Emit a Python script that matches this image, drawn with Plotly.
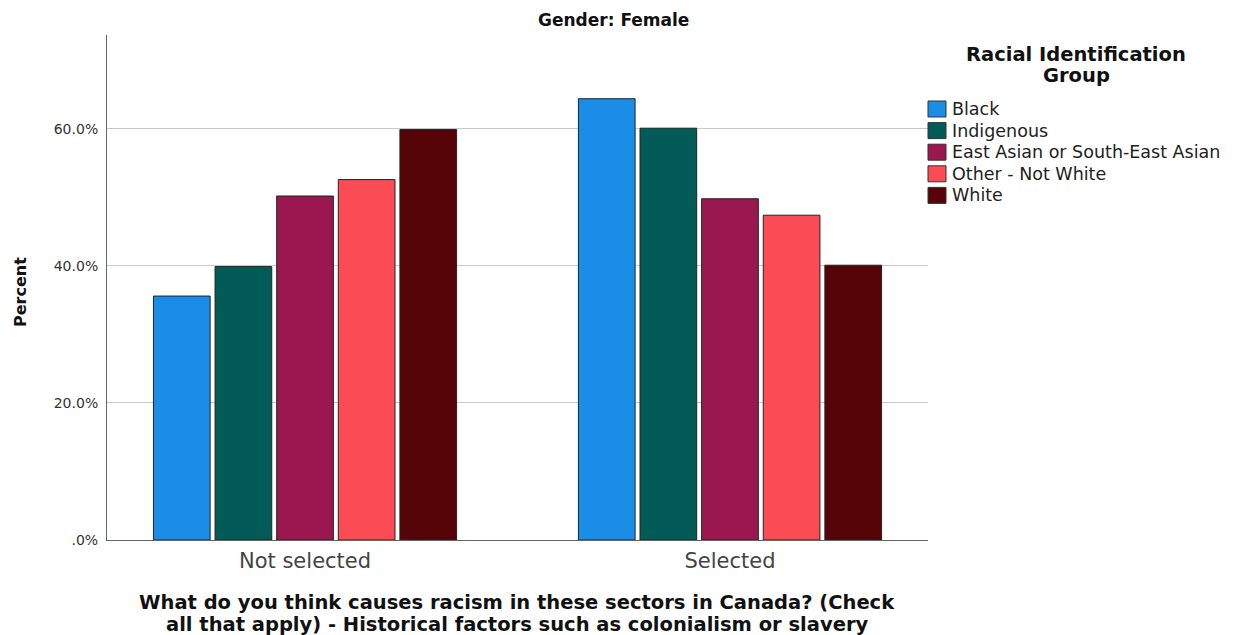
import plotly.graph_objects as go

categories = ["Not selected", "Selected"]
groups = ["Black", "Indigenous", "East Asian or South-East Asian", "Other - Not White", "White"]
colors = ["#1a8ee6", "#035b58", "#9b1750", "#fb4c56", "#560407"]
values = {
    "Black": [35.6, 64.4],
    "Indigenous": [39.9, 60.1],
    "East Asian or South-East Asian": [50.2, 49.8],
    "Other - Not White": [52.6, 47.4],
    "White": [59.9, 40.1],
}
y_ticks = [0, 20, 40, 60]
y_ticklabels = [".0%", "20.0%", "40.0%", "60.0%"]
title_text = "Gender: Female"
x_title_lines = ["What do you think causes racism in these sectors in Canada? (Check",
                 "all that apply) - Historical factors such as colonialism or slavery"]
legend_title_lines = ["Racial Identification", "Group"]
y_title = "Percent"

FONT = "DejaVu Sans, Arial, sans-serif"
OFF = 8  # page body margin
W, H = 1233 - OFF, 635 - OFF
# plot area in window pixels
X0, X1, Y0, Y1 = 107, 928, 35, 540
L, R, T, B = X0 - OFF, 1233 - X1, Y0 - OFF, 635 - Y1
PW, PH = X1 - X0, Y1 - Y0


def px(xp):
    return (xp - X0) / PW


def py(yp):
    return (Y1 - yp) / PH


fig = go.Figure()
for g, c in zip(groups, colors):
    fig.add_trace(go.Bar(
        x=categories, y=values[g], name=g,
        marker=dict(color=c, line=dict(color="#222222", width=1)),
    ))

annotations = [
    dict(text="<b>%s</b>" % title_text, xref="paper", yref="paper", x=px(613), y=py(20),
         xanchor="center", yanchor="middle", showarrow=False,
         font=dict(size=17, color="#111111", family=FONT)),
    dict(text="<b>%s</b>" % y_title, xref="paper", yref="paper", x=px(20), y=py(292),
         xanchor="center", yanchor="middle", showarrow=False, textangle=-90,
         font=dict(size=16, color="#111111", family=FONT)),
]
for i, line in enumerate(x_title_lines):
    annotations.append(dict(text="<b>%s</b>" % line, xref="paper", yref="paper",
                            x=px(517), y=py(602 + 22 * i), xanchor="center", yanchor="middle",
                            showarrow=False, font=dict(size=19.5, color="#111111", family=FONT)))
for i, line in enumerate(legend_title_lines):
    annotations.append(dict(text="<b>%s</b>" % line, xref="paper", yref="paper",
                            x=px(1076), y=py(54 + 22 * i), xanchor="center", yanchor="middle",
                            showarrow=False, font=dict(size=19.5, color="#111111", family=FONT)))

shapes = []
for i, (g, c) in enumerate(zip(groups, colors)):
    yc = 109 + 21.6 * i
    shapes.append(dict(type="rect", xref="paper", yref="paper",
                       x0=px(928), x1=px(946), y0=py(yc - 8), y1=py(yc + 8),
                       fillcolor=c, line=dict(color="#333333", width=1)))
    annotations.append(dict(text=g, xref="paper", yref="paper", x=px(950), y=py(yc),
                            xanchor="left", yanchor="middle", showarrow=False,
                            font=dict(size=17.5, color="#222222", family=FONT)))

fig.update_layout(
    width=W, height=H,
    margin=dict(l=L, r=R, t=T, b=B),
    paper_bgcolor="white", plot_bgcolor="white",
    barmode="group", bargap=0.275, bargroupgap=0.08,
    font=dict(family=FONT, color="#222222"),
    showlegend=False,
    xaxis=dict(
        type="category", range=[-0.466, 1.466], automargin=False,
        showline=True, linecolor="#666666", linewidth=1,
        ticks="", tickfont=dict(size=21, color="#444444"),
        ticklabelstandoff=2,
        showgrid=False,
    ),
    yaxis=dict(
        range=[0, 73.7], automargin=False,
        tickvals=y_ticks, ticktext=y_ticklabels,
        showline=True, linecolor="#666666", linewidth=1,
        showgrid=True, gridcolor="#c8c8c8", gridwidth=1,
        zeroline=False, ticks="", ticklen=0,
        tickfont=dict(size=14, color="#333333"),
        ticklabelstandoff=5,
    ),
    annotations=annotations,
    shapes=shapes,
)

fig.write_html("out.html")
